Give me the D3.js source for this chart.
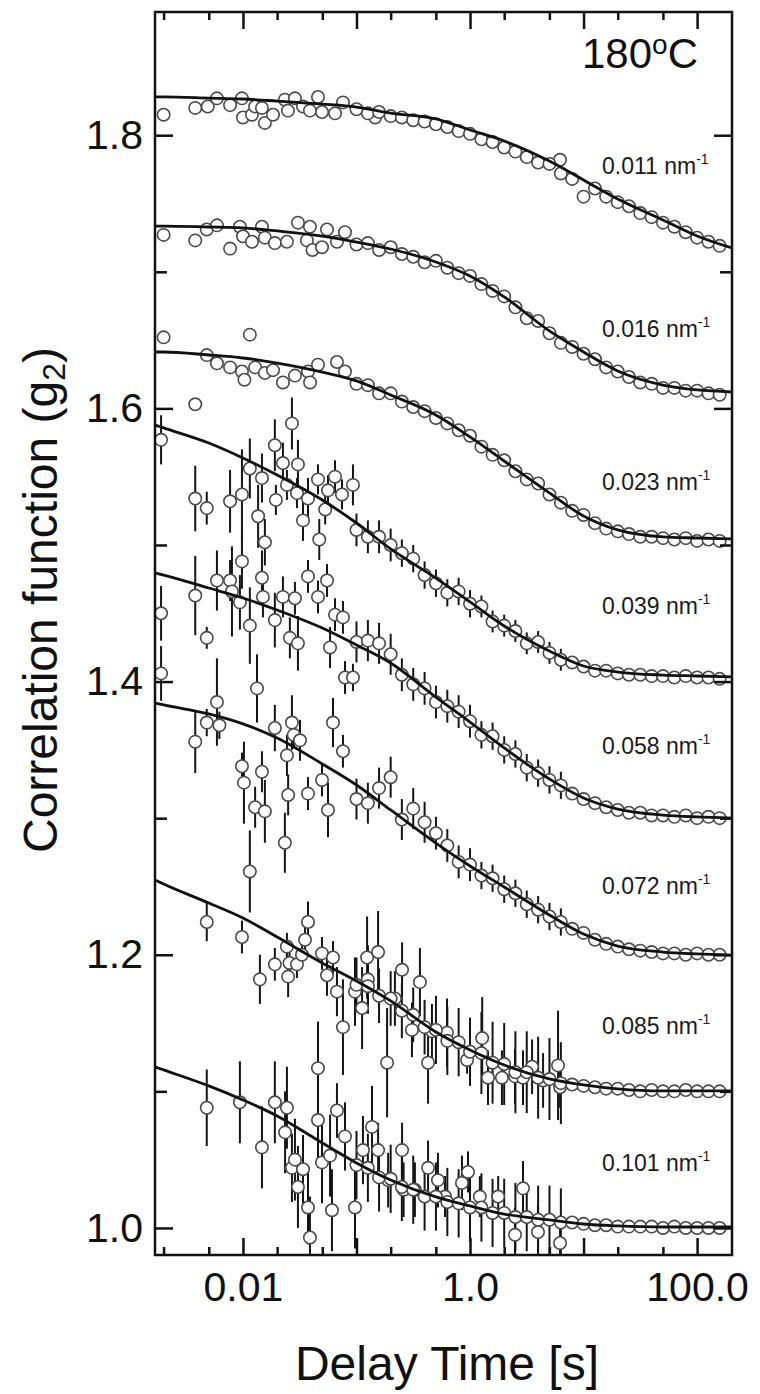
<!DOCTYPE html>
<html>
<head>
<meta charset="utf-8">
<script src="https://cdn.jsdelivr.net/npm/d3@7"></script>
<style>
  body { margin: 0; background: #fff; }
  svg { display: block; font-family: "Liberation Sans", Arial, Helvetica, sans-serif; }
</style>
</head>
<body>
<svg id="drawing_region"></svg>
<script>
// scattering vectors (nm^-1), one curve each
const qLabels = ['0.011', '0.016', '0.023', '0.039', '0.058', '0.072', '0.085', '0.101'];

// axis ticks
const xMajorTicks = [0.01, 0.1, 1, 10, 100];
const xMinorTicks = [0.002, 0.005, 0.02, 0.05, 0.2, 0.5, 2, 5, 20, 50];
const xTickLabels = { 0.01: '0.01', 1: '1.0', 100: '100.0' };
const yMajorTicks = [1.0, 1.2, 1.4, 1.6, 1.8];
const yMinorTicks = [1.1, 1.3, 1.5, 1.7];

// fit lines at these delay times [s]
const fitTimes = [0.00168, 0.002, 0.005, 0.01, 0.02, 0.05, 0.1, 0.2, 0.5, 1, 2, 5, 10, 20, 50, 100, 203];
const fitQ011 = [1.828, 1.828, 1.8272, 1.8265, 1.825, 1.8228, 1.8206, 1.8162, 1.8119, 1.8038, 1.7958, 1.7811, 1.7672, 1.7533, 1.7379, 1.7262, 1.7174];
const fitQ016 = [1.7335, 1.7335, 1.7328, 1.7321, 1.7299, 1.7262, 1.7218, 1.7167, 1.7072, 1.6969, 1.6816, 1.6567, 1.6413, 1.6274, 1.6171, 1.6135, 1.6120];
const fitQ023 = [1.6413, 1.6413, 1.6391, 1.6369, 1.6332, 1.6266, 1.6201, 1.6098, 1.5952, 1.5791, 1.5615, 1.5381, 1.5212, 1.5110, 1.5059, 1.5051, 1.5044];
const fitQ039 = [1.5878, 1.5857, 1.5747, 1.5637, 1.5512, 1.5329, 1.5161, 1.4971, 1.4758, 1.4583, 1.4407, 1.4224, 1.4114, 1.4070, 1.4048, 1.4041, 1.4034];
const fitQ058 = [1.4795, 1.4780, 1.4685, 1.4612, 1.4524, 1.4392, 1.4268, 1.4136, 1.3887, 1.3704, 1.3514, 1.3287, 1.3148, 1.3067, 1.3023, 1.3009, 1.3001];
const fitQ072 = [1.3843, 1.3829, 1.3763, 1.3690, 1.3587, 1.3397, 1.3243, 1.3060, 1.2818, 1.2650, 1.2496, 1.2291, 1.2152, 1.2064, 1.2020, 1.2006, 1.1998];
const fitQ085 = [1.2548, 1.2518, 1.2379, 1.2269, 1.2130, 1.1940, 1.1808, 1.1662, 1.1435, 1.1303, 1.1193, 1.1091, 1.1047, 1.1018, 1.1003, 1.1003, 1.1003];
const fitQ101 = [1.1179, 1.1157, 1.1040, 1.0937, 1.0820, 1.0622, 1.0476, 1.0351, 1.0227, 1.0161, 1.0102, 1.0059, 1.0029, 1.0015, 1.0007, 1.0007, 1.0007];

// short-time points [delay, g2, error half-width]
const earlyQ011 = [[0.0020,1.815,0],[0.0038,1.820,0],[0.0049,1.821,0],[0.0059,1.827,0],[0.0077,1.822,0],[0.0098,1.827,0],[0.0100,1.813,0],[0.0120,1.815,0],[0.0128,1.821,0],[0.0147,1.820,0],[0.0156,1.809,0],[0.0184,1.815,0],[0.0234,1.826,0],[0.0249,1.818,0],[0.0287,1.827,0],[0.0338,1.821,0],[0.0389,1.818,0],[0.0458,1.828,0],[0.0497,1.817,0],[0.0647,1.816,0],[0.076,1.824,0],[0.146,1.813,0],[6.2,1.782,0]];
const earlyQ016 = [[0.0020,1.727,0],[0.0038,1.723,0],[0.0048,1.731,0],[0.0059,1.734,0],[0.0077,1.717,0],[0.0094,1.733,0],[0.0100,1.726,0],[0.0120,1.722,0],[0.0147,1.733,0],[0.0156,1.725,0],[0.0191,1.721,0],[0.0244,1.722,0],[0.0305,1.736,0],[0.0366,1.723,0],[0.0389,1.733,0],[0.041,1.716,0],[0.0497,1.718,0],[0.055,1.731,0],[0.0673,1.722,0],[0.0792,1.729,0]];
const earlyQ023 = [[0.0020,1.652,0],[0.0038,1.603,0],[0.0048,1.639,0],[0.0059,1.633,0],[0.0077,1.630,0],[0.0098,1.627,0],[0.0103,1.621,0],[0.0115,1.654,0],[0.0128,1.630,0],[0.0156,1.626,0],[0.0184,1.628,0],[0.0225,1.619,0],[0.0287,1.624,0],[0.0374,1.627,0],[0.039,1.619,0],[0.0458,1.632,0],[0.0673,1.634,0],[0.0792,1.627,0]];
const earlyQ039 = [[0.0019,1.577,0.018],[0.0038,1.534,0.024],[0.0048,1.527,0.012],[0.0077,1.532,0.023],[0.0098,1.537,0.033],[0.0115,1.556,0.022],[0.0136,1.521,0.023],[0.0147,1.549,0.018],[0.0156,1.502,0.017],[0.0191,1.573,0.019],[0.0195,1.533,0.011],[0.0225,1.560,0.015],[0.0244,1.544,0.011],[0.0270,1.589,0.019],[0.0299,1.538,0.011],[0.0305,1.559,0.018],[0.0338,1.518,0.015],[0.0374,1.534,0.015],[0.0458,1.548,0.011],[0.047,1.504,0.015],[0.053,1.526,0.011],[0.0561,1.540,0.011],[0.0647,1.550,0.012],[0.0745,1.537,0.011],[0.0931,1.544,0.015]];
const earlyQ058 = [[0.0019,1.450,0.02],[0.0038,1.463,0.029],[0.0048,1.432,0.008],[0.0059,1.474,0.022],[0.0077,1.474,0.015],[0.0080,1.466,0.033],[0.0094,1.458,0.02],[0.0098,1.488,0.02],[0.0115,1.441,0.028],[0.0133,1.395,0.025],[0.0147,1.476,0.02],[0.0150,1.462,0.015],[0.0191,1.445,0.02],[0.0225,1.462,0.015],[0.0259,1.432,0.015],[0.0287,1.461,0.012],[0.0305,1.428,0.02],[0.0374,1.477,0.012],[0.0458,1.462,0.012],[0.055,1.474,0.012],[0.0585,1.425,0.015],[0.0647,1.449,0.012],[0.076,1.447,0.012],[0.0792,1.403,0.012],[0.0931,1.403,0.01]];
const earlyQ072 = [[0.0019,1.406,0.02],[0.0038,1.356,0.023],[0.0048,1.370,0.01],[0.0059,1.385,0.032],[0.0062,1.368,0.01],[0.0098,1.338,0.01],[0.0102,1.326,0.03],[0.0115,1.261,0.03],[0.0128,1.308,0.015],[0.0147,1.334,0.015],[0.0156,1.305,0.023],[0.0191,1.366,0.017],[0.0234,1.282,0.022],[0.0244,1.346,0.015],[0.0250,1.317,0.015],[0.0270,1.370,0.02],[0.028,1.361,0.01],[0.0318,1.357,0.015],[0.0374,1.318,0.012],[0.0497,1.328,0.012],[0.0561,1.306,0.02],[0.0621,1.370,0.018],[0.076,1.349,0.012]];
const earlyQ085 = [[0.0048,1.224,0.014],[0.0098,1.213,0.012],[0.0141,1.182,0.018],[0.0191,1.193,0.012],[0.0244,1.206,0.01],[0.025,1.184,0.015],[0.0257,1.194,0.01],[0.0299,1.193,0.01],[0.0331,1.200,0.01],[0.0352,1.211,0.012],[0.0374,1.224,0.015],[0.0458,1.117,0.034],[0.0497,1.201,0.012],[0.055,1.185,0.015],[0.0621,1.198,0.012],[0.0673,1.173,0.018],[0.076,1.147,0.035],[0.097,1.173,0.025],[0.112,1.161,0.03],[0.124,1.198,0.03],[0.126,1.182,0.025],[0.155,1.202,0.03],[0.186,1.121,0.04],[0.218,1.168,0.02],[0.252,1.189,0.02],[0.308,1.145,0.02],[0.362,1.180,0.025],[0.427,1.121,0.03],[0.462,1.144,0.02],[0.627,1.143,0.025],[0.942,1.123,0.01],[1.28,1.139,0.03],[1.44,1.110,0.02],[1.91,1.110,0.02],[2.49,1.111,0.02],[2.93,1.110,0.02],[3.52,1.118,0.02],[4.40,1.108,0.02],[5.96,1.119,0.04],[6.21,1.103,0.015]];
const earlyQ101 = [[0.0048,1.088,0.028],[0.0094,1.092,0.03],[0.0147,1.059,0.03],[0.0191,1.092,0.03],[0.0235,1.070,0.03],[0.0244,1.088,0.03],[0.0270,1.044,0.025],[0.0287,1.050,0.03],[0.0305,1.030,0.03],[0.0338,1.043,0.025],[0.0374,1.015,0.027],[0.0389,0.993,0.03],[0.0458,1.079,0.035],[0.0497,1.048,0.03],[0.0585,1.053,0.03],[0.0608,1.013,0.03],[0.0673,1.086,0.02],[0.0792,1.067,0.025],[0.097,1.015,0.03],[0.114,1.057,0.025],[0.137,1.074,0.03],[0.155,1.057,0.02],[0.19,1.035,0.02],[0.252,1.057,0.02],[0.26,1.028,0.02],[0.327,1.028,0.02],[0.427,1.044,0.02],[0.522,1.035,0.02],[0.602,1.023,0.015],[0.849,1.033,0.02],[0.96,1.041,0.015],[1.22,1.023,0.015],[1.77,1.023,0.015],[2.49,0.995,0.02],[2.93,1.029,0.02],[3.97,0.997,0.02],[6.21,0.989,0.02]];

// long-time points: shared lag times, g2 per curve, error half-widths
const lagTimes = [0.1, 0.126, 0.158, 0.2, 0.251, 0.316, 0.398, 0.501, 0.631, 0.794, 1, 1.26, 1.58, 2, 2.51, 3.16, 3.98, 5.01, 6.31, 7.94, 10, 12.6, 15.8, 20, 25.1, 31.6, 39.8, 50.1, 63.1, 79.4, 100, 126, 158];
const lateQ011 = [1.819,1.816,1.817,1.814,1.813,1.811,1.810,1.808,1.806,1.803,1.801,1.797,1.795,1.791,1.788,1.784,1.780,1.779,1.772,1.768,1.755,1.761,1.755,1.751,1.748,1.743,1.740,1.736,1.733,1.729,1.725,1.722,1.719];
const lateQ016 = [1.720,1.721,1.716,1.718,1.713,1.711,1.707,1.708,1.703,1.699,1.697,1.691,1.686,1.682,1.674,1.666,1.664,1.655,1.648,1.645,1.640,1.636,1.630,1.627,1.623,1.619,1.618,1.615,1.615,1.613,1.613,1.611,1.610];
const lateQ023 = [1.618,1.617,1.611,1.611,1.605,1.601,1.598,1.593,1.589,1.584,1.580,1.572,1.566,1.562,1.554,1.548,1.545,1.537,1.531,1.525,1.522,1.516,1.512,1.510,1.508,1.506,1.506,1.505,1.504,1.505,1.503,1.504,1.503];
const lateQ039 = [1.511,1.506,1.506,1.500,1.494,1.490,1.478,1.472,1.465,1.466,1.457,1.455,1.444,1.441,1.437,1.428,1.429,1.421,1.416,1.414,1.411,1.408,1.408,1.406,1.405,1.405,1.404,1.404,1.403,1.404,1.403,1.403,1.402];
const lateQ058 = [1.429,1.430,1.428,1.420,1.405,1.398,1.395,1.385,1.382,1.378,1.371,1.361,1.360,1.350,1.347,1.337,1.333,1.328,1.324,1.318,1.314,1.311,1.308,1.306,1.304,1.304,1.302,1.302,1.301,1.302,1.300,1.301,1.300];
const lateQ072 = [1.314,1.311,1.322,1.330,1.299,1.307,1.297,1.289,1.280,1.268,1.266,1.258,1.256,1.248,1.245,1.237,1.233,1.228,1.224,1.219,1.216,1.211,1.208,1.206,1.204,1.203,1.202,1.201,1.201,1.200,1.201,1.200,1.200];
const lateQ085 = [1.178,1.177,1.170,1.168,1.159,1.156,1.147,1.145,1.137,1.136,1.129,1.128,1.121,1.120,1.114,1.114,1.110,1.109,1.106,1.105,1.104,1.103,1.102,1.102,1.101,1.100,1.101,1.100,1.100,1.101,1.100,1.100,1.100];
const lateQ101 = [1.046,1.044,1.037,1.036,1.030,1.028,1.023,1.023,1.019,1.018,1.015,1.015,1.011,1.011,1.008,1.008,1.006,1.006,1.004,1.004,1.003,1.002,1.002,1.001,1.001,1.001,1.001,1.000,1.001,1.000,1.000,1.000,1.000];
const lateErrQ039 = [.012,.012,.012,.012,.01,.01,.01,.01,.01,.01,.01,.008,.008,.008,.008,.008,.008,.008,.008,0,0,0,0,0,0,0,0,0,0,0,0,0,0];
const lateErrQ058 = [.015,.015,.015,.015,.012,.012,.012,.012,.012,.012,.012,.01,.01,.01,.01,.01,.01,.01,.01,0,0,0,0,0,0,0,0,0,0,0,0,0,0];
const lateErrQ072 = [.015,.015,.015,.015,.015,.015,.015,.012,.012,.012,.012,.01,.01,.01,.01,.01,.01,.01,.01,0,0,0,0,0,0,0,0,0,0,0,0,0,0];
const lateErrQ085 = [.02,.02,.02,.02,.02,.02,.02,.025,.025,.025,.025,.03,.03,.03,.03,.03,.03,.03,.03,0,0,0,0,0,0,0,0,0,0,0,0,0,0];
const lateErrQ101 = [.025,.025,.025,.025,.025,.025,.025,.025,.025,.025,.025,.025,.025,.025,.025,.025,.025,.025,.025,0,0,0,0,0,0,0,0,0,0,0,0,0,0];

const fits = [fitQ011, fitQ016, fitQ023, fitQ039, fitQ058, fitQ072, fitQ085, fitQ101];
const earlies = [earlyQ011, earlyQ016, earlyQ023, earlyQ039, earlyQ058, earlyQ072, earlyQ085, earlyQ101];
const lates = [lateQ011, lateQ016, lateQ023, lateQ039, lateQ058, lateQ072, lateQ085, lateQ101];
const lateErrs = [null, null, null, lateErrQ039, lateErrQ058, lateErrQ072, lateErrQ085, lateErrQ101];

const series = qLabels.map((q, i) => ({
    q: q,
    fit: fitTimes.map((t, j) => ({ t: t, g: fits[i][j] })),
    points: earlies[i].map(d => ({ t: d[0], g: d[1], e: d[2] }))
        .concat(lagTimes.map((t, j) => ({ t: t, g: lates[i][j], e: lateErrs[i] ? lateErrs[i][j] : 0 })))
}));

class CorrelationPlot {
    constructor(config, data) {
        this.config = {
            parent: config.parent,
            width: config.width || 760,
            height: config.height || 1394,
            margin: config.margin || { top: 12, right: 28, bottom: 139, left: 155 }
        };
        this.data = data;
        this.init();
    }

    init() {
        let self = this;
        self.svg = d3.select(self.config.parent)
            .attr('width', self.config.width)
            .attr('height', self.config.height);

        self.svg.append('rect')
            .attr('width', self.config.width)
            .attr('height', self.config.height)
            .attr('fill', '#fff');

        self.chart = self.svg.append('g')
            .attr('transform', `translate(${self.config.margin.left}, ${self.config.margin.top})`);
        self.inner_width = self.config.width - self.config.margin.left - self.config.margin.right;
        self.inner_height = self.config.height - self.config.margin.top - self.config.margin.bottom;

        self.xscale = d3.scaleLog()
            .domain([0.00168, 203])
            .range([0, self.inner_width]);

        self.yscale = d3.scaleLinear()
            .domain([0.9802, 1.8902])
            .range([self.inner_height, 0]);

        self.line = d3.line()
            .x(d => self.xscale(d.t))
            .y(d => self.yscale(d.g))
            .curve(d3.curveMonotoneX);
    }

    drawAxis(axis, transform, fontSize) {
        let self = this;
        const g = self.chart.append('g')
            .attr('transform', transform)
            .call(axis);
        g.select('.domain').remove();
        g.selectAll('.tick line')
            .attr('stroke', '#111')
            .attr('stroke-width', 2.5);
        g.selectAll('.tick text')
            .attr('fill', '#111')
            .attr('font-size', fontSize)
            .attr('font-family', '"Liberation Sans", Arial, sans-serif');
        g.attr('font-size', null).attr('font-family', null);
    }

    render() {
        let self = this;
        const W = self.inner_width, H = self.inner_height;

        self.chart.append('clipPath').attr('id', 'plot_clip')
            .append('rect').attr('width', W).attr('height', H);

        const plot = self.chart.append('g').attr('clip-path', 'url(#plot_clip)');

        // error bars
        const allPoints = self.data.flatMap(s => s.points);
        plot.selectAll('.err')
            .data(allPoints.filter(d => d.e > 0))
            .join('line')
            .attr('x1', d => self.xscale(d.t))
            .attr('x2', d => self.xscale(d.t))
            .attr('y1', d => self.yscale(d.g - d.e))
            .attr('y2', d => self.yscale(d.g + d.e))
            .attr('stroke', '#151515')
            .attr('stroke-width', 2);

        // open circles
        plot.selectAll('.pt')
            .data(allPoints)
            .join('circle')
            .attr('cx', d => self.xscale(d.t))
            .attr('cy', d => self.yscale(d.g))
            .attr('r', 6.2)
            .attr('fill', '#fff')
            .attr('stroke', '#4a4a4a')
            .attr('stroke-width', 1.6);

        // fitted curves
        plot.selectAll('.fit')
            .data(self.data)
            .join('path')
            .attr('d', d => self.line(d.fit))
            .attr('fill', 'none')
            .attr('stroke', '#111')
            .attr('stroke-width', 2.8);

        // axes, ticks pointing inward
        const xfmt = d => xTickLabels[d] || '';
        self.drawAxis(d3.axisBottom(self.xscale).tickValues(xMajorTicks).tickSize(-17).tickPadding(17).tickFormat(xfmt),
            `translate(0, ${H})`, 41);
        self.drawAxis(d3.axisBottom(self.xscale).tickValues(xMinorTicks).tickSize(-8).tickFormat(''),
            `translate(0, ${H})`, 41);
        self.drawAxis(d3.axisTop(self.xscale).tickValues(xMajorTicks).tickSize(-17).tickFormat(''),
            'translate(0, 0)', 41);
        self.drawAxis(d3.axisTop(self.xscale).tickValues(xMinorTicks).tickSize(-8).tickFormat(''),
            'translate(0, 0)', 41);
        self.drawAxis(d3.axisLeft(self.yscale).tickValues(yMajorTicks).tickSize(-18).tickPadding(12).tickFormat(d3.format('.1f')),
            'translate(0, 0)', 41);
        self.drawAxis(d3.axisLeft(self.yscale).tickValues(yMinorTicks).tickSize(-12).tickFormat(''),
            'translate(0, 0)', 41);
        self.drawAxis(d3.axisRight(self.yscale).tickValues(yMajorTicks).tickSize(-18).tickFormat(''),
            `translate(${W}, 0)`, 41);
        self.drawAxis(d3.axisRight(self.yscale).tickValues(yMinorTicks).tickSize(-12).tickFormat(''),
            `translate(${W}, 0)`, 41);

        self.chart.append('rect')
            .attr('width', W)
            .attr('height', H)
            .attr('fill', 'none')
            .attr('stroke', '#111')
            .attr('stroke-width', 2.5);

        // q labels near the right end of each curve
        const labelOffsets = [74, 55, 49, 63, 64, 61, 57, 56];
        const labels = self.chart.selectAll('.qlabel')
            .data(self.data)
            .join('text')
            .attr('x', 447)
            .attr('y', (d, i) => self.yscale(d.fit[d.fit.length - 1].g) - labelOffsets[i])
            .attr('font-size', 23)
            .attr('fill', '#1a1a1a');
        labels.append('tspan').text(d => d.q + ' nm');
        labels.append('tspan').text('-1').attr('font-size', 14).attr('dy', -10);

        // temperature
        const temp = self.chart.append('text')
            .attr('x', 427)
            .attr('y', 56)
            .attr('font-size', 42)
            .attr('fill', '#111');
        temp.append('tspan').text('180');
        temp.append('tspan').text('o').attr('font-size', 28).attr('dy', -14);
        temp.append('tspan').text('C').attr('dy', 14);

        // axis titles
        self.svg.append('text')
            .attr('x', 447)
            .attr('y', 1380)
            .attr('text-anchor', 'middle')
            .attr('font-size', 48)
            .attr('fill', '#111')
            .text('Delay Time [s]');

        const ylab = self.svg.append('text')
            .attr('transform', 'translate(57, 600) rotate(-90)')
            .attr('text-anchor', 'middle')
            .attr('font-size', 48)
            .attr('fill', '#111');
        ylab.append('tspan').text('Correlation function (g');
        ylab.append('tspan').text('2').attr('font-size', 32).attr('dy', 8);
        ylab.append('tspan').text(')').attr('dy', -8);
    }
}

const config = {
    parent: '#drawing_region',
    width: 760,
    height: 1394,
    margin: { top: 12, right: 28, bottom: 139, left: 155 }
};
const plot = new CorrelationPlot(config, series);
plot.render();
</script>
</body>
</html>
